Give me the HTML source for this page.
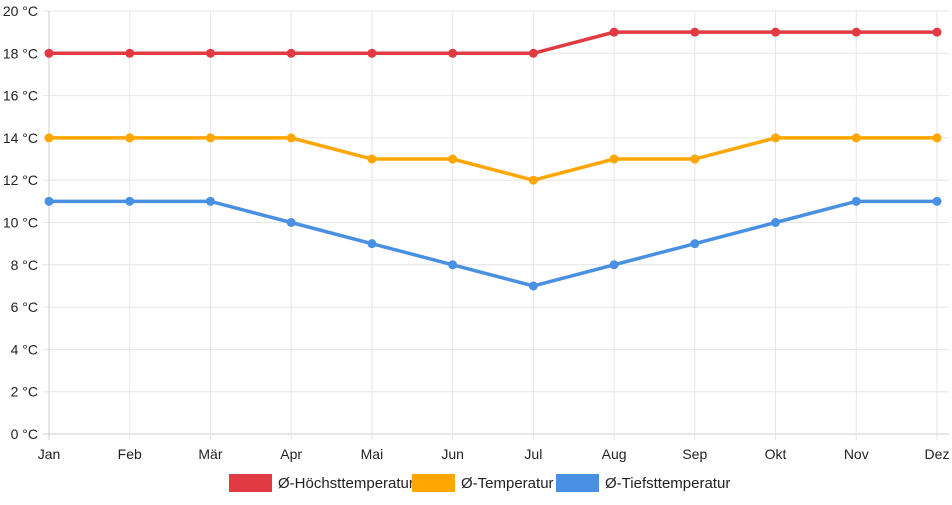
<!DOCTYPE html>
<html><head><meta charset="utf-8"><style>
body{margin:0;background:#fff;font-family:"Liberation Sans",sans-serif}
svg text{font-family:"Liberation Sans",sans-serif;font-size:14px;fill:#222}
</style></head><body>
<svg id="c" width="952" height="500"></svg>
<script>
const months=["Jan","Feb","Mär","Apr","Mai","Jun","Jul","Aug","Sep","Okt","Nov","Dez"];
const highTemps=[18,18,18,18,18,18,18,19,19,19,19,19];
const avgTemps=[14,14,14,14,13,13,12,13,13,14,14,14];
const lowTemps=[11,11,11,10,9,8,7,8,9,10,11,11];
const yTicks=[0,2,4,6,8,10,12,14,16,18,20];
const seriesNames=["Ø-Höchsttemperatur","Ø-Temperatur","Ø-Tiefsttemperatur"];
const colors=["#e23a43","#ffa600","#4a90e2"];
const NS="http://www.w3.org/2000/svg",svg=document.getElementById('c');
const x0=49,x1=937,y0=434,y1=11;
const xs=i=>x0+(x1-x0)*i/(months.length-1);
const ys=v=>y0-(y0-y1)*v/20;
function mk(t,a,p){const e=document.createElementNS(NS,t);for(const k in a)e.setAttribute(k,a[k]);(p||svg).appendChild(e);return e;}
yTicks.forEach(v=>{
 const l=mk('line',{x1:x0-6,x2:x1+12,y1:ys(v),y2:ys(v),stroke:v===0?'#ccc':'#e6e6e6'});
 
 
 const t=mk('text',{x:38,y:ys(v)+5,'text-anchor':'end'});t.textContent=v+' °C';
 
 
});
months.forEach((m,i)=>{
 const l=mk('line',{x1:xs(i),x2:xs(i),y1:y1,y2:y0+6,stroke:i===0?'#ccc':'#e6e6e6'});
 
 
 const t=mk('text',{x:xs(i),y:459,'text-anchor':'middle'});t.textContent=m;
 
 
});
[highTemps,avgTemps,lowTemps].forEach((d,s)=>{
 const g=mk('g',{});
 
 
 const p=mk('polyline',{points:d.map((v,i)=>xs(i)+','+ys(v)).join(' '),fill:'none',stroke:colors[s],'stroke-width':3.5},g);
 
 
 d.forEach((v,i)=>{const c=mk('circle',{cx:xs(i),cy:ys(v),r:4.5,fill:colors[s]},g);
  
  });
});
const lx=[229,412,556];
seriesNames.forEach((n,s)=>{
 const g=mk('g',{});
 
 
 mk('rect',{x:lx[s],y:474,width:43,height:18,fill:colors[s]},g);
 const t=mk('text',{x:lx[s]+49,y:488,style:'font-size:15px'},g);t.textContent=n;
});
</script>
</body></html>
